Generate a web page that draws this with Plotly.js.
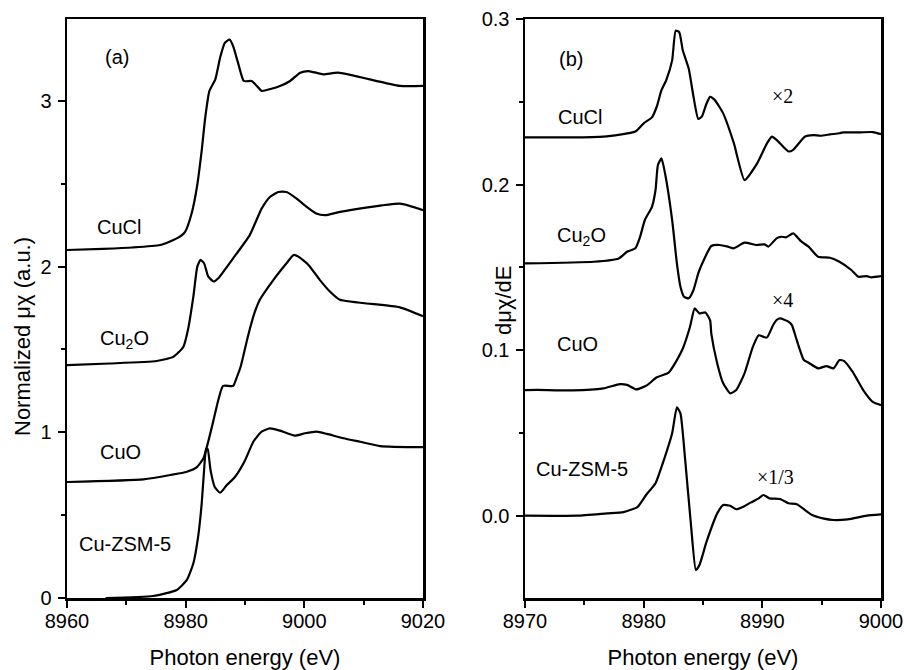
<!DOCTYPE html>
<html>
<head>
<meta charset="utf-8">
<script src="https://cdn.plot.ly/plotly-3.0.1.min.js"></script>
<style>html,body{margin:0;padding:0;background:#fff;}#chart{width:904px;height:670px;}</style>
</head>
<body>
<div id="chart"></div>
<script>
// ---------- Panel (a): normalized XANES ----------
const a_CuCl_E = [8960, 8966, 8971, 8975.7, 8978.5, 8979.9, 8981, 8981.9, 8982.7, 8983.3, 8984.0, 8985, 8985.8, 8986.6, 8987.4, 8988, 8988.9, 8989.8, 8991.1, 8992, 8992.8, 8995.9, 8997.6, 8999.3, 9000.7, 9003.2, 9005.7, 9016.1, 9020];
const a_CuCl_mu = [2.10, 2.107, 2.115, 2.13, 2.17, 2.21, 2.32, 2.48, 2.70, 2.90, 3.06, 3.13, 3.26, 3.35, 3.37, 3.33, 3.22, 3.12, 3.12, 3.09, 3.06, 3.09, 3.12, 3.17, 3.18, 3.16, 3.17, 3.09, 3.09];

const a_Cu2O_E = [8960, 8967.2, 8975.1, 8977.9, 8979.6, 8980.4, 8981.3, 8981.96, 8982.5, 8983.1, 8983.8, 8984.7, 8985.5, 8988.0, 8990.8, 8992.8, 8994.2, 8995.6, 8997, 8998.7, 9000.4, 9002, 9003.5, 9006, 9016.1, 9020];
const a_Cu2O_mu = [1.405, 1.415, 1.43, 1.455, 1.515, 1.62, 1.82, 2.00, 2.04, 2.02, 1.94, 1.91, 1.93, 2.05, 2.19, 2.35, 2.42, 2.45, 2.45, 2.41, 2.36, 2.32, 2.31, 2.33, 2.38, 2.34];

const a_CuO_E = [8960, 8972.9, 8977.4, 8980.2, 8981.9, 8983, 8983.8, 8984.7, 8985.5, 8986.3, 8988.0, 8988.6, 8989.3, 8990.5, 8991.6, 8992.5, 8994.8, 8997, 8998.2, 8999, 9000.7, 9002.6, 9004.3, 9006, 9016.1, 9020];
const a_CuO_mu = [0.70, 0.716, 0.742, 0.762, 0.79, 0.843, 0.943, 1.074, 1.195, 1.28, 1.28, 1.33, 1.40, 1.58, 1.72, 1.80, 1.92, 2.02, 2.07, 2.06, 2.01, 1.92, 1.85, 1.80, 1.754, 1.70];

const a_ZSM_E = [8966.5, 8974.5, 8978.5, 8980.2, 8981.3, 8982.1, 8982.7, 8983.1, 8983.45, 8983.7, 8984.2, 8984.9, 8985.8, 8986.9, 8988.3, 8990, 8991.4, 8992.8, 8994.2, 8995.9, 8998.4, 9000.1, 9002.1, 9003.8, 9006.6, 9009.4, 9012.8, 9020];
const a_ZSM_mu = [0, 0.012, 0.048, 0.109, 0.21, 0.37, 0.57, 0.77, 0.90, 0.90, 0.77, 0.67, 0.635, 0.68, 0.73, 0.83, 0.943, 1.004, 1.024, 1.01, 0.98, 0.994, 1.004, 0.99, 0.964, 0.943, 0.917, 0.91];

// ---------- Panel (b): first derivative ----------
const b_CuCl_E = [8970, 8973.8, 8976.6, 8979.3, 8980, 8980.7, 8981.1, 8981.5, 8981.9, 8982.4, 8982.7, 8983, 8983.3, 8983.8, 8984.2, 8984.6, 8984.9, 8985.3, 8985.6, 8986, 8986.7, 8987.6, 8988.5, 8989.5, 8990.4, 8990.8, 8991.2, 8992.2, 8992.6, 8993.6, 8994.3, 8994.9, 8995.7, 8996.5, 8996.8, 8997.9, 8999.3, 9000];
const b_CuCl_d = [0.2285, 0.2285, 0.229, 0.232, 0.237, 0.2406, 0.247, 0.257, 0.263, 0.275, 0.293, 0.292, 0.281, 0.270, 0.253, 0.2396, 0.241, 0.249, 0.253, 0.251, 0.243, 0.225, 0.2027, 0.212, 0.225, 0.229, 0.227, 0.220, 0.221, 0.229, 0.2299, 0.2295, 0.2303, 0.231, 0.2315, 0.2315, 0.2317, 0.2305];

const b_Cu2O_E = [8970, 8975.8, 8977.9, 8978.6, 8979.3, 8979.7, 8980.1, 8980.7, 8981, 8981.2, 8981.5, 8981.8, 8982.4, 8982.8, 8983.1, 8983.4, 8983.8, 8984.2, 8984.6, 8985, 8985.7, 8986.4, 8987.1, 8987.6, 8988.5, 8989.5, 8990.2, 8990.5, 8991.2, 8991.6, 8992, 8992.6, 8993.3, 8993.9, 8994.7, 8995.7, 8996.5, 8997.5, 8998.1, 8998.8, 8999.2, 9000];
const b_Cu2O_d = [0.1524, 0.1534, 0.1554, 0.1594, 0.1615, 0.1685, 0.1786, 0.1866, 0.1967, 0.2118, 0.2158, 0.2068, 0.1786, 0.1524, 0.1383, 0.1322, 0.1313, 0.1363, 0.1464, 0.1534, 0.1629, 0.1635, 0.1625, 0.1615, 0.1649, 0.1635, 0.1639, 0.1625, 0.1675, 0.1685, 0.1681, 0.1705, 0.1655, 0.1625, 0.1564, 0.1558, 0.1534, 0.1484, 0.1443, 0.1447, 0.1440, 0.1447];

const b_CuO_E = [8970, 8971, 8974, 8976.6, 8978, 8978.6, 8979.4, 8980.3, 8981.1, 8982.1, 8982.8, 8983.3, 8983.9, 8984.3, 8984.7, 8985.2, 8985.6, 8985.7, 8986.2, 8986.7, 8987.3, 8987.8, 8988.5, 8989.2, 8989.7, 8990.1, 8990.4, 8990.9, 8991.2, 8991.5, 8992.2, 8992.5, 8992.9, 8993.5, 8993.9, 8994.7, 8995.4, 8996, 8996.5, 8996.9, 8997.6, 8998.5, 8999.3, 9000];
const b_CuO_d = [0.0759, 0.076, 0.0757, 0.0769, 0.0795, 0.079, 0.0763, 0.0789, 0.0836, 0.0864, 0.094, 0.101, 0.114, 0.1252, 0.1222, 0.1228, 0.118, 0.110, 0.092, 0.080, 0.0739, 0.0759, 0.086, 0.102, 0.109, 0.108, 0.1077, 0.115, 0.1182, 0.1192, 0.1172, 0.115, 0.106, 0.094, 0.0924, 0.089, 0.0904, 0.089, 0.094, 0.0934, 0.087, 0.0759, 0.0688, 0.0668];

const b_ZSM_E = [8970, 8974.4, 8976.9, 8978.3, 8979.5, 8980.2, 8981, 8981.7, 8982.4, 8982.8, 8983.1, 8983.5, 8984.0, 8984.4, 8984.7, 8985.3, 8986.2, 8986.7, 8987.3, 8987.8, 8988.4, 8989, 8989.7, 8990.1, 8990.6, 8991.5, 8992.2, 8992.9, 8994.2, 8995.1, 8996, 8997.2, 8998.8, 9000];
const b_ZSM_d = [0, 0, 0.0014, 0.0022, 0.0054, 0.0125, 0.0196, 0.0336, 0.0498, 0.0655, 0.0618, 0.0336, -0.0066, -0.0328, -0.0298, -0.0157, 0.0014, 0.0065, 0.006, 0.0039, 0.0054, 0.0079, 0.0105, 0.0125, 0.0105, 0.0101, 0.0075, 0.0069, 0.0004, -0.0016, -0.0026, -0.0022, 0, 0.0008];

// Tick values / labels
const a_xticks = [8960, 8980, 9000, 9020];
const a_xminor = [8970, 8990, 9010];
const a_yticks = [0, 1, 2, 3];
const a_yminor = [0.5, 1.5, 2.5];
const b_xticks = [8970, 8980, 8990, 9000];
const b_xminor = [8975, 8985, 8995];
const b_yticks = [0.0, 0.1, 0.2, 0.3];
const b_yticktext = ['0.0', '0.1', '0.2', '0.3'];
const b_yminor = [-0.05, 0.05, 0.15, 0.25];

const lineStyle = {color: '#000', width: 2.2, shape: 'spline', smoothing: 0.5};
function tr(x, y, name, xa, ya) {
  return {x: x, y: y, name: name, mode: 'lines', type: 'scatter', line: lineStyle, xaxis: xa, yaxis: ya, showlegend: false, hoverinfo: 'skip'};
}
const data = [
  tr(a_CuCl_E, a_CuCl_mu, 'CuCl', 'x', 'y'),
  tr(a_Cu2O_E, a_Cu2O_mu, 'Cu2O', 'x', 'y'),
  tr(a_CuO_E, a_CuO_mu, 'CuO', 'x', 'y'),
  tr(a_ZSM_E, a_ZSM_mu, 'Cu-ZSM-5', 'x', 'y'),
  tr(b_CuCl_E, b_CuCl_d, 'CuCl', 'x2', 'y2'),
  tr(b_Cu2O_E, b_Cu2O_d, 'Cu2O', 'x2', 'y2'),
  tr(b_CuO_E, b_CuO_d, 'CuO', 'x2', 'y2'),
  tr(b_ZSM_E, b_ZSM_d, 'Cu-ZSM-5', 'x2', 'y2')
];

const FONT = 'Liberation Sans, Arial, sans-serif';
const SERIF = 'Liberation Serif, Times New Roman, serif';
const tickFont = {family: FONT, size: 20, color: '#000'};
const titleFont = {family: FONT, size: 22, color: '#000'};
function minorTicks(vals) {
  return {tickmode: 'array', tickvals: vals, ticks: 'outside', ticklen: 4, tickwidth: 2, tickcolor: '#000', showgrid: false};
}
function axisBase(extra) {
  return Object.assign({
    showline: true, linecolor: '#000', linewidth: 2.5, mirror: true,
    ticks: 'outside', ticklen: 7, tickwidth: 2, tickcolor: '#000',
    showgrid: false, zeroline: false, tickfont: tickFont,
    fixedrange: true, tickmode: 'array'
  }, extra);
}

const yDom = [72/670, 651/670];
const layout = {
  width: 904, height: 670,
  margin: {l: 0, r: 0, t: 0, b: 0},
  paper_bgcolor: '#fff', plot_bgcolor: '#fff',
  font: {family: FONT, color: '#000'},
  showlegend: false,
  xaxis: axisBase({domain: [67/904, 423/904], range: [8960, 9020], tickvals: a_xticks,
    minor: minorTicks(a_xminor), ticklabelstandoff: -4,
    title: {text: 'Photon energy (eV)', font: titleFont, standoff: 22}, anchor: 'y'}),
  yaxis: axisBase({domain: yDom, range: [0, 3.494], tickvals: a_yticks,
    minor: minorTicks(a_yminor), ticklabelstandoff: 2, anchor: 'x'}),
  xaxis2: axisBase({domain: [525/904, 881/904], range: [8970, 9000], tickvals: b_xticks,
    minor: minorTicks(b_xminor), ticklabelstandoff: -4,
    title: {text: 'Photon energy (eV)', font: titleFont, standoff: 22}, anchor: 'y2'}),
  yaxis2: axisBase({domain: yDom, range: [-0.0497, 0.3], tickvals: b_yticks, ticktext: b_yticktext,
    minor: minorTicks(b_yminor), ticklabelstandoff: 2, anchor: 'x2'}),
  annotations: []
};

function lab(text, x, y, xref, yref, font) {
  return {text: text, x: x, y: y, xref: xref, yref: yref, showarrow: false,
    xanchor: 'center', yanchor: 'middle', font: font || {family: FONT, size: 20, color: '#000'}};
}
const serifFont = {family: SERIF, size: 20, color: '#000'};
layout.annotations.push(
  lab('(a)', 8968.4, 3.265, 'x', 'y'),
  lab('CuCl', 8968.8, 2.239, 'x', 'y'),
  lab('Cu<sub>2</sub>O', 8969.7, 1.56, 'x', 'y'),
  lab('CuO', 8969.1, 0.881, 'x', 'y'),
  lab('Cu-ZSM-5', 8969.8, 0.326, 'x', 'y'),
  lab('(b)', 8973.9, 0.2758, 'x2', 'y2'),
  lab('CuCl', 8974.6, 0.2408, 'x2', 'y2'),
  lab('Cu<sub>2</sub>O', 8974.8, 0.1687, 'x2', 'y2'),
  lab('CuO', 8974.4, 0.1037, 'x2', 'y2'),
  lab('Cu-ZSM-5', 8974.8, 0.0282, 'x2', 'y2'),
  lab('×2', 8991.66, 0.2534, 'x2', 'y2', serifFont),
  lab('×4', 8991.74, 0.1303, 'x2', 'y2', serifFont),
  lab('×1/3', 8991.07, 0.0234, 'x2', 'y2', serifFont),
  {text: 'Normalized μχ (a.u.)', x: 22/904, y: 1 - 337/670, xref: 'paper', yref: 'paper', showarrow: false,
    textangle: -90, xanchor: 'center', yanchor: 'middle', font: titleFont},
  {text: 'dμχ/dE', x: 503/904, y: 1 - 300/670, xref: 'paper', yref: 'paper', showarrow: false,
    textangle: -90, xanchor: 'center', yanchor: 'middle', font: titleFont}
);

Plotly.newPlot('chart', data, layout, {displayModeBar: false, staticPlot: true});
</script>
</body>
</html>
